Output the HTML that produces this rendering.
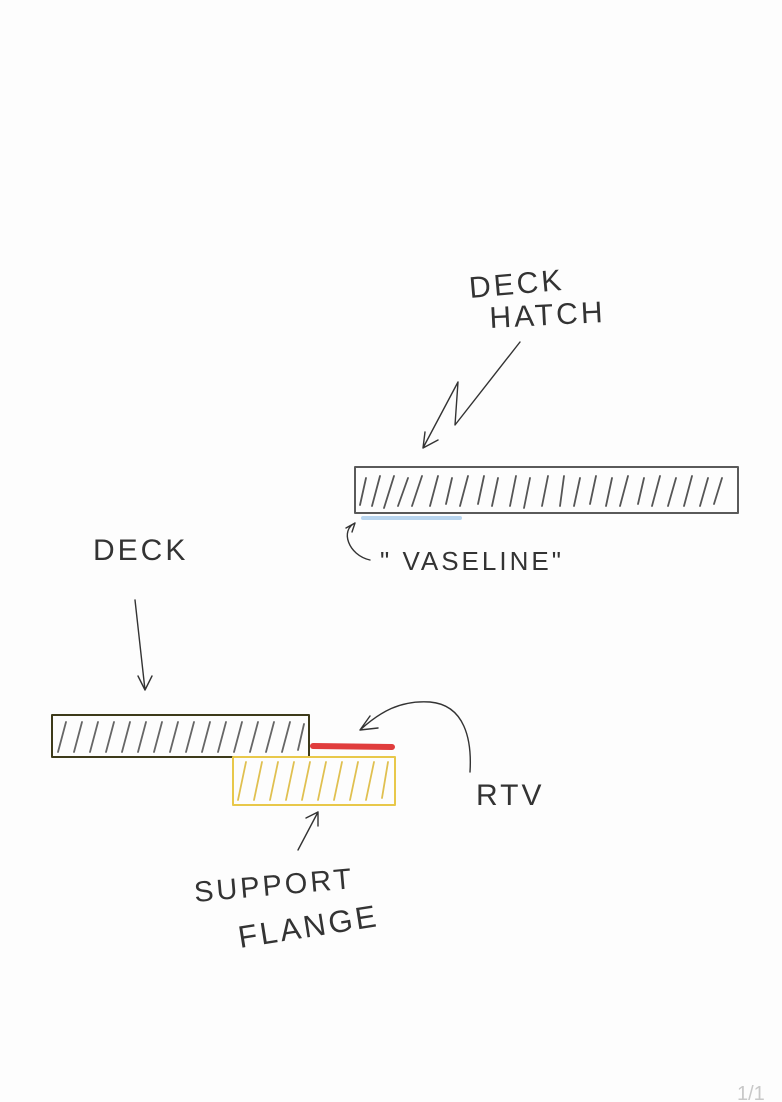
<!DOCTYPE html>
<html><head><style>
html,body{margin:0;padding:0;background:#fdfdfd;}
svg{display:block;}
text{font-family:"Liberation Sans",sans-serif;fill:#333;font-weight:normal;}
</style></head><body>
<svg width="782" height="1102" viewBox="0 0 782 1102" xmlns="http://www.w3.org/2000/svg">
<rect width="782" height="1102" fill="#fdfdfd"/>
<g fill="none" stroke-linecap="round" stroke-linejoin="round">
<rect x="355" y="467" width="383" height="46" stroke="#5a5a5a" stroke-width="2"/>
<g stroke="#555" stroke-width="1.8">
<path d="M366 478 L360 505 M380 476 L372 506 M394 476 L384 508 M408 478 L398 506 M422 476 L412 506 M438 476 L430 506 M452 478 L446 504 M468 476 L460 506 M484 476 L478 504 M498 478 L492 506 M516 476 L510 506 M530 478 L524 508 M548 476 L542 506 M564 476 L560 506 M580 478 L574 506 M596 476 L590 504 M612 478 L606 506 M628 476 L620 506 M644 478 L638 504 M660 476 L652 506 M676 478 L668 506 M692 476 L684 506 M708 478 L700 506 M722 478 L714 504"/>
</g>
<path d="M363 518 L460 518" stroke="#b8d5ef" stroke-width="4"/>
<rect x="52" y="715" width="257" height="42" stroke="#3d3a1a" stroke-width="2"/>
<g stroke="#666" stroke-width="1.8">
<path d="M66 722 L58 752 M82 722 L74 752 M98 722 L90 752 M114 722 L106 752 M130 722 L122 752 M146 722 L138 752 M162 722 L154 752 M178 722 L170 752 M194 722 L186 752 M210 722 L202 752 M226 722 L218 752 M242 722 L234 752 M258 722 L250 752 M274 722 L266 752 M290 722 L282 752 M304 724 L298 750"/>
</g>
<rect x="233" y="757" width="162" height="48" stroke="#e8c84a" stroke-width="2"/>
<g stroke="#e0c050" stroke-width="1.8">
<path d="M246 762 L238 800 M262 762 L254 800 M278 762 L270 800 M294 762 L286 800 M310 762 L302 800 M326 762 L318 800 M342 762 L334 800 M358 762 L350 800 M374 762 L366 800 M388 762 L382 798"/>
</g>
<path d="M313 746 L392 747" stroke="#e03c3c" stroke-width="6"/>
<g stroke="#333" stroke-width="1.4">
<path d="M520 342 L455 425 L458 382 L423 448 M423 448 L425 432 M423 448 L438 440"/>
<path d="M135 600 L145 690 M145 690 L138 676 M145 690 L152 676"/>
<path d="M470 772 C472 740 465 705 430 702 C400 700 380 712 360 730 M360 730 L370 716 M360 730 L378 728"/>
<path d="M298 850 L318 812 M318 812 L306 818 M318 812 L318 826"/>
<path d="M355 523 C340 530 348 555 370 560 M355 523 L346 528 M355 523 L352 532"/>
</g>
</g>
<g font-size="30" letter-spacing="3" fill="#333">
<text x="470" y="298" transform="rotate(-5 470 298)">DECK</text>
<text x="490" y="328" transform="rotate(-3 490 328)">HATCH</text>
<text x="93" y="560" font-size="30">DECK</text>
<text x="380" y="570" font-size="26">"  VASELINE"</text>
<text x="476" y="805" font-size="30">RTV</text>
<text x="195" y="902" font-size="29" transform="rotate(-5 195 902)">SUPPORT</text>
<text x="240" y="948" font-size="31" transform="rotate(-9 240 948)">FLANGE</text>
</g>
<text x="737" y="1100" font-size="20" fill="#c8c8c8" style="fill:#c8c8c8">1/1</text>
</svg>
</body></html>
